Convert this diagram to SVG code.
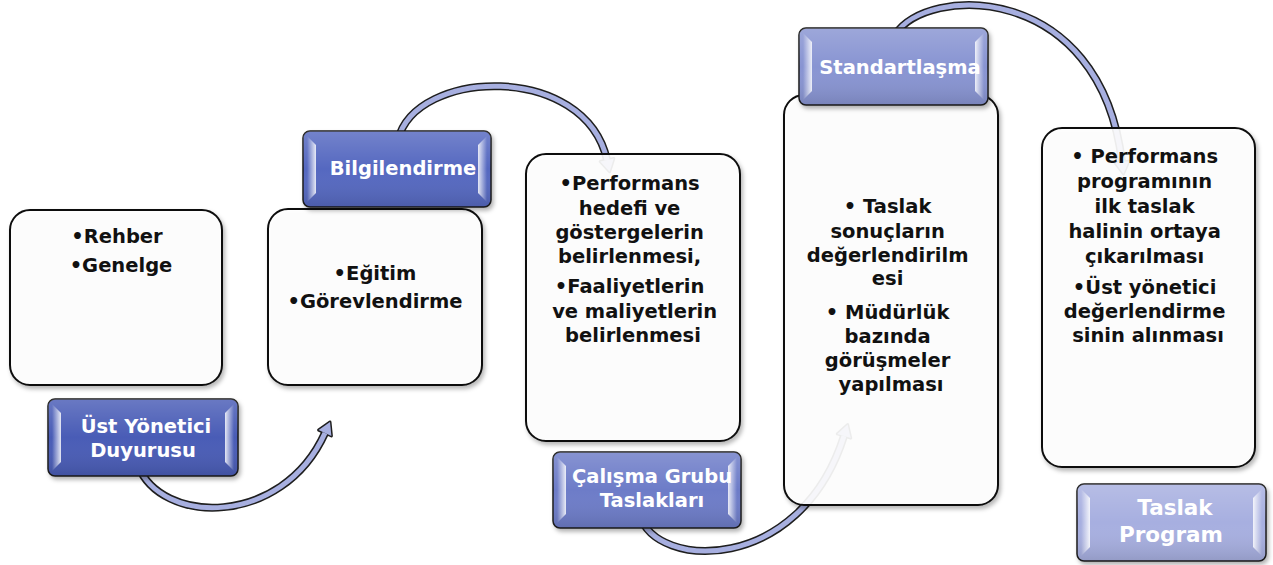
<svg xmlns="http://www.w3.org/2000/svg" width="1273" height="565" viewBox="0 0 1273 565">
<style>
.box{fill:#ffffff;fill-opacity:0.9;stroke:#111;stroke-width:2;filter:url(#ds)}
.lab{stroke:#1a1a1a;stroke-width:1.5;filter:url(#ds)}
.shade{fill:url(#shg)}
.bvl{fill:url(#bl)}
.bvr{fill:url(#br)}
.t{font-family:"DejaVu Sans",Verdana,sans-serif;font-weight:bold;font-size:19.5px;fill:#111;text-anchor:middle}
.lt{font-family:"DejaVu Sans",Verdana,sans-serif;font-weight:bold;font-size:19.5px;fill:#fff;text-anchor:middle}
.ao{fill:none;stroke:#1e1e1e;stroke-width:8}
.ai{fill:none;stroke:#a7afe0;stroke-width:5}
.ho{fill:#a7afe0;stroke:#1e1e1e;stroke-width:3;stroke-linejoin:round}
.hi{fill:#a7afe0}
</style>
<defs>
<filter id="ds" x="-10%" y="-10%" width="125%" height="125%">
<feDropShadow dx="2" dy="3" stdDeviation="2" flood-color="#000" flood-opacity="0.3"/>
</filter>
<linearGradient id="shg" x1="0" y1="0" x2="0" y2="1">
<stop offset="0" stop-color="#fff" stop-opacity="0.18"/>
<stop offset="0.5" stop-color="#fff" stop-opacity="0"/>
<stop offset="1" stop-color="#000" stop-opacity="0.12"/>
</linearGradient>
<linearGradient id="bl" x1="0" y1="0" x2="1" y2="0">
<stop offset="0" stop-color="#fff" stop-opacity="0"/>
<stop offset="1" stop-color="#fff" stop-opacity="0.85"/>
</linearGradient>
<linearGradient id="br" x1="1" y1="0" x2="0" y2="0">
<stop offset="0" stop-color="#fff" stop-opacity="0"/>
<stop offset="1" stop-color="#fff" stop-opacity="0.85"/>
</linearGradient>
</defs>
<rect width="1273" height="565" fill="#fff"/>

<g id="connectors">
  <g id="arc1">
    <path class="ao" d="M138,465 C160,525 282,528 325,433"/>
    <polygon class="ho" points="331.4,435.9 330,422.1 318.6,430.1"/>
    <path class="ai" d="M138,465 C160,525 282,528 325,433"/>
    <polygon class="hi" points="331.4,435.9 330,422.1 318.6,430.1"/>
  </g>
  <g id="arc2">
    <path class="ao" d="M398,140 C415,68 585,62 607,160"/>
    <polygon class="ho" points="613.8,158.5 609.6,171.7 600.2,161.5"/>
    <path class="ai" d="M398,140 C415,68 585,62 607,160"/>
    <polygon class="hi" points="613.8,158.5 609.6,171.7 600.2,161.5"/>
  </g>
  <g id="arc3">
    <path class="ao" d="M640,515 C655,570 800,575 844,436"/>
    <polygon class="ho" points="850.7,438.1 847.6,424.6 837.3,433.9"/>
    <path class="ai" d="M640,515 C655,570 800,575 844,436"/>
    <polygon class="hi" points="850.7,438.1 847.6,424.6 837.3,433.9"/>
  </g>
  <g id="arc4">
    <path class="ao" d="M895,35 C925,-15 1100,-20 1122,162"/>
    <polygon class="ho" points="1128.9,161.2 1123.4,173.9 1115.1,162.8"/>
    <path class="ai" d="M895,35 C925,-15 1100,-20 1122,162"/>
    <polygon class="hi" points="1128.9,161.2 1123.4,173.9 1115.1,162.8"/>
  </g>
</g>

<g id="node1">
  <rect class="box" x="10" y="210" width="212" height="175" rx="20"/>
  <text class="t" x="117"><tspan x="117" y="243">•Rehber</tspan><tspan x="121" y="272">•Genelge</tspan></text>
  <rect class="lab" x="48" y="399" width="190" height="77" rx="7" fill="#4a5cb6"/>
  <rect class="shade" x="48" y="399" width="190" height="77" rx="7"/>
  <polygon class="bvl" points="52,404 61,413 61,462 52,471"/>
  <polygon class="bvr" points="234,404 225,413 225,462 234,471"/>
  <text class="lt"><tspan x="146" y="433">Üst Yönetici</tspan><tspan x="143" y="457">Duyurusu</tspan></text>
</g>

<g id="node2">
  <rect class="box" x="268" y="209" width="214" height="176" rx="20"/>
  <text class="t"><tspan x="375" y="280">•Eğitim</tspan><tspan x="375" y="308">•Görevlendirme</tspan></text>
  <rect class="lab" x="303" y="131" width="188" height="76" rx="7" fill="#5567c0"/>
  <rect class="shade" x="303" y="131" width="188" height="76" rx="7"/>
  <polygon class="bvl" points="307,136 316,145 316,193 307,202"/>
  <polygon class="bvr" points="487,136 478,145 478,193 487,202"/>
  <text class="lt" x="403" y="175">Bilgilendirme</text>
</g>

<g id="node3">
  <rect class="box" x="526" y="154" width="214" height="287" rx="20"/>
  <text class="t">
    <tspan x="633" y="190">•Performans</tspan>
    <tspan x="633" y="215">hedefi ve</tspan>
    <tspan x="633" y="239">göstergelerin</tspan>
    <tspan x="633" y="263">belirlenmesi,</tspan>
    <tspan x="633" y="293">•Faaliyetlerin</tspan>
    <tspan x="638" y="318">ve maliyetlerin</tspan>
    <tspan x="633" y="342">belirlenmesi</tspan>
  </text>
  <rect class="lab" x="553" y="452" width="188" height="76" rx="7" fill="#6d7bc8"/>
  <rect class="shade" x="553" y="452" width="188" height="76" rx="7"/>
  <polygon class="bvl" points="557,457 566,466 566,514 557,523"/>
  <polygon class="bvr" points="737,457 728,466 728,514 737,523"/>
  <text class="lt"><tspan x="652" y="483">Çalışma Grubu</tspan><tspan x="652" y="507">Taslakları</tspan></text>
</g>

<g id="node4">
  <rect class="box" x="784" y="95" width="214" height="410" rx="20"/>
  <text class="t">
    <tspan x="891" y="213">• Taslak</tspan>
    <tspan x="891" y="238">sonuçların</tspan>
    <tspan x="891" y="262">değerlendirilm</tspan>
    <tspan x="891" y="285">esi</tspan>
    <tspan x="891" y="319">• Müdürlük</tspan>
    <tspan x="891" y="343">bazında</tspan>
    <tspan x="891" y="367">görüşmeler</tspan>
    <tspan x="891" y="391">yapılması</tspan>
  </text>
  <rect class="lab" x="799" y="28" width="189" height="77" rx="7" fill="#8894d2"/>
  <rect class="shade" x="799" y="28" width="189" height="77" rx="7"/>
  <polygon class="bvl" points="803,33 812,42 812,91 803,100"/>
  <polygon class="bvr" points="984,33 975,42 975,91 984,100"/>
  <text class="lt" x="900" y="74">Standartlaşma</text>
</g>

<g id="node5">
  <rect class="box" x="1042" y="128" width="213" height="339" rx="20"/>
  <text class="t">
    <tspan x="1148" y="163">• Performans</tspan>
    <tspan x="1148" y="188">programının</tspan>
    <tspan x="1148" y="213">ilk taslak</tspan>
    <tspan x="1148" y="238">halinin ortaya</tspan>
    <tspan x="1148" y="263">çıkarılması</tspan>
    <tspan x="1148" y="294">•Üst yönetici</tspan>
    <tspan x="1148" y="318">değerlendirme</tspan>
    <tspan x="1148" y="342">sinin alınması</tspan>
  </text>
  <rect class="lab" x="1077" y="484" width="189" height="77" rx="7" fill="#a7afe0"/>
  <rect class="shade" x="1077" y="484" width="189" height="77" rx="7"/>
  <polygon class="bvl" points="1081,489 1090,498 1090,547 1081,556"/>
  <polygon class="bvr" points="1262,489 1253,498 1253,547 1262,556"/>
  <text class="lt" style="font-size:21.5px"><tspan x="1175" y="515">Taslak</tspan><tspan x="1171" y="542">Program</tspan></text>
</g>
</svg>
